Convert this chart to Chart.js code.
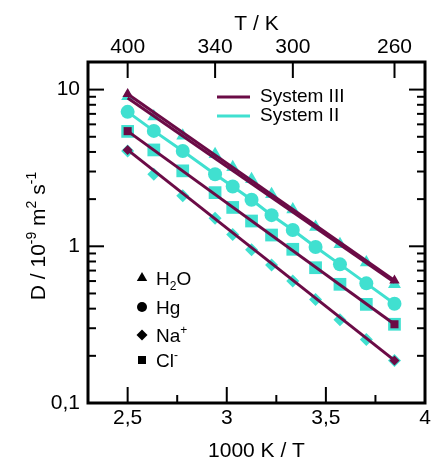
<!DOCTYPE html>
<html>
<head>
<meta charset="utf-8">
<script src="https://cdn.jsdelivr.net/npm/chart.js@4.4.0/dist/chart.umd.min.js"></script>
<style>
  html, body { margin: 0; padding: 0; background: #fff; }
  #wrap { width: 434px; height: 463px; }
</style>
</head>
<body>
<div id="wrap"><canvas id="diffChart" width="434" height="463"></canvas></div>
<script>
// 1000 K / T for T = 400, 380, 360, 340, 330, 320, 310, 300, 290, 280, 270, 260 K
const invTemp = [2.500, 2.632, 2.778, 2.941, 3.030, 3.125, 3.226, 3.333, 3.448, 3.571, 3.704, 3.846];

// System II, D in 10^-9 m2/s
const h2oII = [9.08, 6.74, 5.07, 3.87, 3.20, 2.68, 2.15, 1.72, 1.33, 1.03, 0.787, 0.572];
const hgII  = [7.21, 5.45, 4.06, 2.88, 2.41, 1.98, 1.58, 1.27, 0.99, 0.767, 0.58, 0.43];
const clII  = [5.41, 4.12, 3.03, 2.20, 1.77, 1.45, 1.18, 0.957, 0.73, 0.572, 0.426, 0.318];
const naII  = [4.06, 2.88, 2.10, 1.51, 1.19, 0.95, 0.76, 0.60, 0.458, 0.34, 0.254, 0.187];

// System III, straight lines between 400 K and 260 K
const invTempEnds = [2.500, 3.846];
const h2oIII = [9.36, 0.606];
const hgIII  = [8.85, 0.59];
const clIII  = [5.43, 0.318];
const naIII  = [4.12, 0.187];

const xMajor = [2.5, 3, 3.5, 4];
const xMinor = [2.75, 3.25, 3.75];
const tempTicks = [400, 340, 300, 260];
const dMajor = [0.1, 1, 10];

const MAROON = '#6b0b46';
const TURQ = '#40e0d0';
const FONT = '"Liberation Sans", Arial, Helvetica, sans-serif';

const pts = (xs, ys) => xs.map((x, i) => ({ x: x, y: ys[i] }));

function markers(label, ys, style, r) {
  return {
    label: label, data: pts(invTemp, ys), showLine: false, order: 2,
    pointStyle: style, pointRadius: r, pointBackgroundColor: TURQ,
    pointBorderColor: TURQ, pointBorderWidth: 0, backgroundColor: TURQ, borderColor: TURQ
  };
}

function fitLine(label, ys, style, r) {
  return {
    label: label, data: pts(invTempEnds, ys), showLine: true, order: 0,
    borderColor: MAROON, borderWidth: 3, backgroundColor: MAROON,
    pointStyle: style, pointRadius: r, pointBackgroundColor: MAROON,
    pointBorderColor: MAROON, pointBorderWidth: 0
  };
}

const datasets = [
  fitLine('H2O III', h2oIII, 'triangle', 6),
  fitLine('Hg III', hgIII, 'circle', 0),
  fitLine('Cl III', clIII, 'rect', 5.7),
  fitLine('Na III', naIII, 'rectRot', 5),
  Object.assign(markers('Hg II', hgII, 'circle', 7), { showLine: true, borderWidth: 3, order: 1 }),
  markers('H2O II', h2oII, 'triangle', 7.5),
  markers('Cl II', clII, 'rect', 9),
  markers('Na II', naII, 'rectRot', 6.5)
];

function fontOf(size) { return size + 'px ' + FONT; }

// text with sub/superscript pieces
function richWidth(ctx, parts, size) {
  let w = 0;
  parts.forEach(p => {
    ctx.font = fontOf(p.s ? Math.round(size * 0.65) : size);
    w += ctx.measureText(p.t).width;
  });
  return w;
}
function drawRich(ctx, parts, x, y, size) {
  parts.forEach(p => {
    ctx.font = fontOf(p.s ? Math.round(size * 0.65) : size);
    const dy = p.s === 'sup' ? -size * 0.42 : (p.s === 'sub' ? size * 0.28 : 0);
    ctx.fillText(p.t, x, y + dy);
    x += ctx.measureText(p.t).width;
  });
}

const decorPlugin = {
  id: 'decor',
  afterDraw(chart) {
    const { ctx, chartArea: a, scales } = chart;
    const sx = scales.x, sx2 = scales.x2, sy = scales.y;
    ctx.save();
    ctx.strokeStyle = '#000';
    ctx.fillStyle = '#000';
    ctx.lineCap = 'butt';

    const seg = (x1, y1, x2, y2) => { ctx.beginPath(); ctx.moveTo(x1, y1); ctx.lineTo(x2, y2); ctx.stroke(); };

    // inward ticks
    ctx.lineWidth = 2;
    xMajor.forEach(v => { const x = sx.getPixelForValue(v); seg(x, a.bottom, x, a.bottom - 16); });
    xMinor.forEach(v => { const x = sx.getPixelForValue(v); seg(x, a.bottom, x, a.bottom - 8); });
    tempTicks.forEach(t => { const x = sx2.getPixelForValue(1000 / t); seg(x, a.top, x, a.top + 16); });
    dMajor.forEach(v => {
      const y = sy.getPixelForValue(v);
      seg(a.left, y, a.left + 16, y);
      seg(a.right, y, a.right - 16, y);
    });
    [0.1, 1].forEach(dec => {
      for (let k = 2; k <= 9; k++) {
        const y = sy.getPixelForValue(dec * k);
        seg(a.left, y, a.left + 8, y);
        seg(a.right, y, a.right - 8, y);
      }
    });

    // frame
    ctx.lineWidth = 3;
    ctx.strokeRect(a.left, a.top, a.right - a.left, a.bottom - a.top);

    // axis titles
    ctx.textBaseline = 'alphabetic';
    ctx.textAlign = 'left';
    const cx = (a.left + a.right) / 2;
    const top = [{ t: 'T / K' }];
    drawRich(ctx, top, cx - richWidth(ctx, top, 21) / 2, 30, 21);
    const bottom = [{ t: '1000 K / T' }];
    drawRich(ctx, bottom, cx - richWidth(ctx, bottom, 21) / 2, 457, 21);

    const yTitle = [
      { t: 'D / 10' }, { t: '-9', s: 'sup' }, { t: ' m' }, { t: '2', s: 'sup' },
      { t: ' s' }, { t: '-1', s: 'sup' }
    ];
    ctx.save();
    ctx.translate(45, 236);
    ctx.rotate(-Math.PI / 2);
    drawRich(ctx, yTitle, -richWidth(ctx, yTitle, 21) / 2, 0, 21);
    ctx.restore();

    // system legend
    ctx.lineWidth = 3;
    ctx.strokeStyle = MAROON;
    seg(217, 97, 250, 97);
    ctx.strokeStyle = TURQ;
    seg(217, 116, 250, 116);
    ctx.fillStyle = '#000';
    ctx.font = fontOf(19);
    ctx.textBaseline = 'middle';
    ctx.fillText('System III', 260, 97);
    ctx.fillText('System II', 260, 116);

    // species legend
    ctx.textBaseline = 'alphabetic';
    const species = [
      { style: 'triangle', r: 6, y: 278, parts: [{ t: 'H' }, { t: '2', s: 'sub' }, { t: 'O' }] },
      { style: 'circle', r: 5, y: 307, parts: [{ t: 'Hg' }] },
      { style: 'rectRot', r: 5.5, y: 335, parts: [{ t: 'Na' }, { t: '+', s: 'sup' }] },
      { style: 'rect', r: 5.7, y: 360, parts: [{ t: 'Cl' }, { t: '-', s: 'sup' }] }
    ];
    species.forEach(s => {
      ctx.fillStyle = '#000';
      ctx.strokeStyle = '#000';
      Chart.helpers.drawPoint(ctx, { pointStyle: s.style, radius: s.r, rotation: 0, borderWidth: 0 }, 142, s.y);
      drawRich(ctx, s.parts, 156, s.y + 7, 19);
    });

    ctx.restore();
  }
};

new Chart(document.getElementById('diffChart'), {
  type: 'scatter',
  data: { datasets: datasets },
  options: {
    responsive: false,
    animation: false,
    layout: { padding: { left: 0, right: 6, top: 0, bottom: 0 } },
    plugins: { legend: { display: false }, tooltip: { enabled: false } },
    scales: {
      x: {
        type: 'linear', position: 'bottom', min: 2.3, max: 4,
        grid: { display: false, drawTicks: false }, border: { display: false },
        afterBuildTicks: s => { s.ticks = xMajor.map(v => ({ value: v })); },
        afterFit: s => { s.height = 60; },
        ticks: {
          padding: 3, autoSkip: false, maxRotation: 0, color: '#000',
          font: { family: FONT, size: 21 },
          callback: v => String(v).replace('.', ',')
        }
      },
      x2: {
        type: 'linear', position: 'top', min: 2.3, max: 4,
        grid: { display: false, drawTicks: false }, border: { display: false },
        afterBuildTicks: s => { s.ticks = tempTicks.map(t => ({ value: 1000 / t })); },
        afterFit: s => { s.height = 62; },
        ticks: {
          padding: 2, autoSkip: false, maxRotation: 0, color: '#000',
          font: { family: FONT, size: 21 },
          callback: v => String(Math.round(1000 / v))
        }
      },
      y: {
        type: 'logarithmic', position: 'left', min: 0.1, max: 15,
        grid: { display: false, drawTicks: false }, border: { display: false },
        afterBuildTicks: s => { s.ticks = dMajor.map(v => ({ value: v })); },
        afterFit: s => { s.width = 88; },
        ticks: {
          padding: 8, autoSkip: false, color: '#000',
          font: { family: FONT, size: 21 },
          callback: v => String(v).replace('.', ',')
        }
      }
    }
  },
  plugins: [decorPlugin]
});
</script>
</body>
</html>
